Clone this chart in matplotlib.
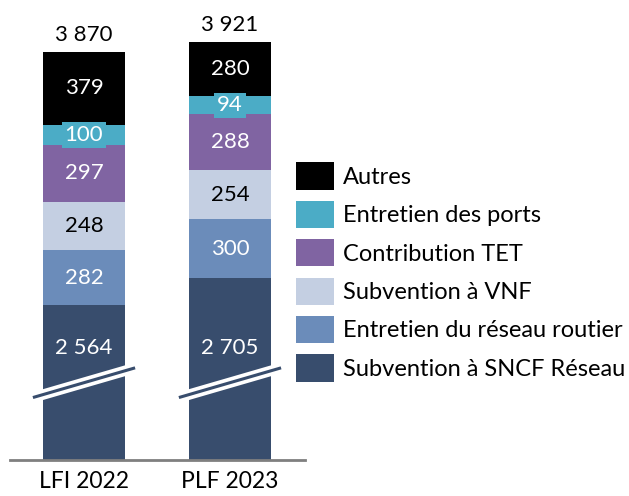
import numpy as np
import matplotlib.pyplot as plt
from matplotlib.patches import Patch

plt.rcParams['font.family'] = ['Lato', 'DejaVu Sans']

periods = ["LFI 2022", "PLF 2023"]
# bottom to top
series = ["Subvention à SNCF Réseau", "Entretien du réseau routier", "Subvention à VNF",
          "Contribution TET", "Entretien des ports", "Autres"]
sncf = [2564, 2705]
routier = [282, 300]
vnf = [248, 254]
tet = [297, 288]
ports = [100, 94]
autres = [379, 280]
totals = [3870, 3921]

colors = ["#384d6d", "#6b8cba", "#c4cfe2", "#8064a2", "#4bacc6", "#000000"]
text_colors = ["white", "white", "black", "white", "white", "white"]

# axis is broken: the bottom segment is shown shortened by this amount
cut = 1765
label_y_bottom = 575

fig = plt.figure(figsize=(6.29, 4.96), dpi=100)
ax = fig.add_axes([10 / 629, 36 / 496, 295 / 629, 440 / 496])

x = np.arange(len(periods))
width = 0.56
values = [sncf, routier, vnf, tet, ports, autres]
bottom = np.zeros(len(periods))
for k, (vals, col, tc) in enumerate(zip(values, colors, text_colors)):
    vals = np.array(vals, dtype=float)
    shown = vals - cut if k == 0 else vals
    ax.bar(x, shown, width, bottom=bottom, color=col, edgecolor="none", zorder=2)
    for i in range(len(x)):
        yc = label_y_bottom if k == 0 else bottom[i] + shown[i] / 2
        ax.text(x[i], yc, f"{int(vals[i]):,}".replace(",", " "), ha="center", va="center",
                fontsize=16, color=tc, zorder=4,
                bbox=dict(boxstyle="square,pad=0.12", facecolor=col, edgecolor="none"))
    bottom += shown

for i in range(len(x)):
    ax.text(x[i], bottom[i] + 35, f"{totals[i]:,}".replace(",", " "), ha="center",
            va="bottom", fontsize=16, color="black")
    # break marks
    xs = [x[i] - 0.35, x[i] + 0.35]
    ys = [322, 475]
    ax.plot(xs, ys, color="white", lw=7.5, solid_capstyle="butt", zorder=5)
    ax.plot(xs, ys, color=colors[0], lw=2.2, solid_capstyle="butt", zorder=6)

ax.set_xlim(-0.507, 1.514)
ax.set_ylim(0, 440 / 0.194)
for s in ["top", "right", "left"]:
    ax.spines[s].set_visible(False)
ax.spines["bottom"].set_color("#7f7f7f")
ax.spines["bottom"].set_linewidth(2)
ax.set_yticks([])
ax.set_xticks(x)
ax.set_xticklabels(periods, fontsize=16.5)
ax.tick_params(axis="x", length=0, pad=8)

handles = [Patch(facecolor=c, edgecolor="none") for c in colors[::-1]]
fig.legend(handles, series[::-1], loc="center left", bbox_to_anchor=(296 / 629, 1 - 272 / 496),
           frameon=False, fontsize=17, handlelength=1.6, handleheight=1.4,
           labelspacing=0.47, handletextpad=0.4, borderpad=0, borderaxespad=0)

fig.savefig("out.png", dpi=100)
